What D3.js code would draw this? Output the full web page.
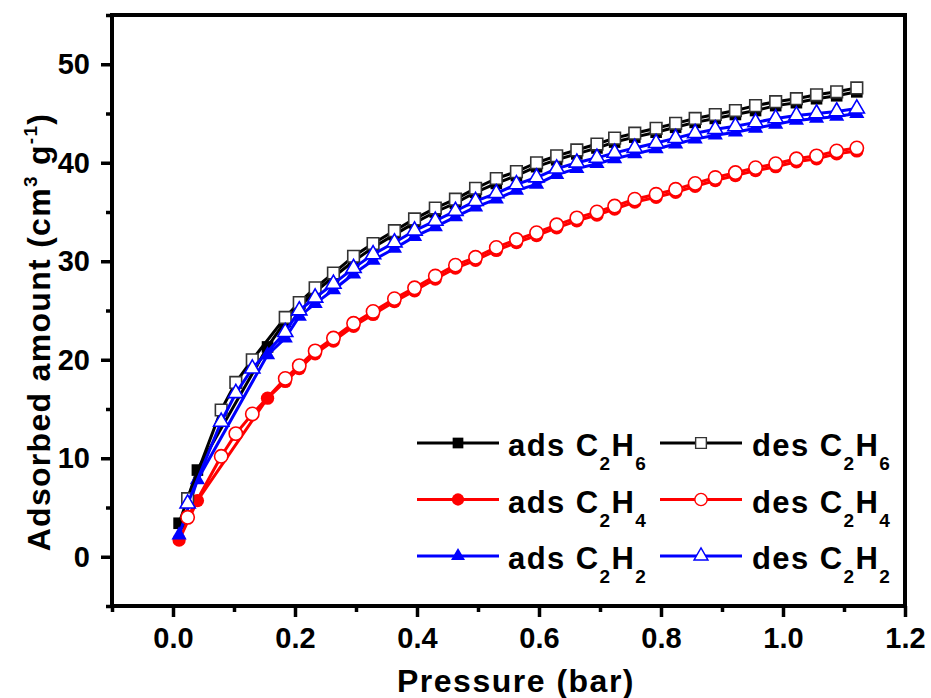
<!DOCTYPE html>
<html>
<head>
<meta charset="utf-8">
<script src="https://cdn.jsdelivr.net/npm/d3@7/dist/d3.min.js"></script>
<style>
  html, body { margin: 0; padding: 0; background: #fff; }
  svg { display: block; }
  text { font-family: "Liberation Sans", Arial, sans-serif; font-weight: bold; fill: #000; }
</style>
</head>
<body>
<svg id="chart" width="931" height="698"></svg>
<script>
// ---------------- data ----------------
const desPressure = [0.024, 0.079, 0.103, 0.130, 0.184, 0.207, 0.233, 0.263, 0.296, 0.328, 0.363, 0.396, 0.430, 0.463, 0.496, 0.530, 0.563, 0.596, 0.629, 0.662, 0.695, 0.724, 0.757, 0.792, 0.824, 0.856, 0.889, 0.922, 0.955, 0.988, 1.022, 1.055, 1.088, 1.121];
const adsPressure = [0.010, 0.040, 0.155, 0.184, 0.207, 0.233, 0.263, 0.296, 0.328, 0.363, 0.396, 0.430, 0.463, 0.496, 0.530, 0.563, 0.596, 0.629, 0.662, 0.695, 0.724, 0.757, 0.792, 0.824, 0.856, 0.889, 0.922, 0.955, 0.988, 1.022, 1.055, 1.088, 1.121];

const adsC2H6 = [3.4, 8.8, 21.3, 23.9, 25.4, 26.9, 28.4, 30.0, 31.4, 32.7, 33.9, 35.0, 35.9, 37.0, 37.9, 38.7, 39.6, 40.3, 40.9, 41.5, 42.1, 42.6, 43.1, 43.6, 44.1, 44.5, 44.9, 45.3, 45.8, 46.1, 46.5, 46.8, 47.2];
const adsC2H4 = [1.7, 5.7, 16.1, 17.8, 19.1, 20.6, 21.9, 23.4, 24.6, 25.9, 27.0, 28.2, 29.3, 30.1, 31.1, 31.9, 32.6, 33.4, 34.1, 34.7, 35.3, 36.0, 36.5, 37.0, 37.6, 38.2, 38.7, 39.2, 39.6, 40.1, 40.4, 40.9, 41.2];
const adsC2H2 = [2.2, 7.8, 20.5, 22.2, 24.4, 25.7, 27.1, 28.7, 30.1, 31.3, 32.5, 33.5, 34.5, 35.5, 36.3, 37.2, 37.8, 38.8, 39.4, 39.9, 40.4, 40.9, 41.4, 41.9, 42.4, 42.8, 43.1, 43.5, 43.9, 44.3, 44.5, 44.7, 45.0];

const desC2H6 = [5.9, 14.9, 17.7, 20.0, 24.3, 25.8, 27.3, 28.8, 30.5, 31.8, 33.1, 34.3, 35.4, 36.3, 37.4, 38.4, 39.1, 40.0, 40.7, 41.3, 41.9, 42.5, 43.0, 43.5, 44.0, 44.5, 44.9, 45.3, 45.8, 46.2, 46.5, 46.9, 47.2, 47.6];
const desC2H4 = [4.0, 10.2, 12.5, 14.5, 18.1, 19.4, 20.9, 22.2, 23.7, 24.9, 26.2, 27.3, 28.5, 29.6, 30.4, 31.4, 32.2, 32.9, 33.7, 34.4, 35.0, 35.6, 36.3, 36.8, 37.3, 37.9, 38.5, 39.0, 39.5, 39.9, 40.4, 40.7, 41.2, 41.5];
const desC2H2 = [5.4, 13.7, 16.6, 19.1, 22.8, 25.0, 26.3, 27.7, 29.3, 30.7, 31.9, 33.1, 34.1, 35.1, 36.1, 36.9, 37.8, 38.5, 39.4, 40.0, 40.5, 41.0, 41.5, 42.0, 42.5, 43.0, 43.4, 43.7, 44.1, 44.5, 44.8, 45.0, 45.2, 45.5];

const xMajorTicks = [0.0, 0.2, 0.4, 0.6, 0.8, 1.0, 1.2];
const xMinorTicks = [-0.1, 0.1, 0.3, 0.5, 0.7, 0.9, 1.1];
const yMajorTicks = [0, 10, 20, 30, 40, 50];
const yMinorTicks = [-5, 5, 15, 25, 35, 45, 55];

const seriesNames = ["ads C2H6", "ads C2H4", "ads C2H2", "des C2H6", "des C2H4", "des C2H2"];

// ---------------- chart ----------------
const svg = d3.select("#chart");
const L = 112, R = 905, T = 15, B = 606;
const x = d3.scaleLinear().domain([-0.1, 1.2]).range([L, R]);
const y = d3.scaleLinear().domain([-5, 55]).range([B, T]);

const series = [
  { name: seriesNames[0], gas: ["C", "2", "H", "6"], kind: "ads", px: adsPressure, v: adsC2H6, color: "#000000", sym: d3.symbolSquare, size: 135, fill: "#000000" },
  { name: seriesNames[1], gas: ["C", "2", "H", "4"], kind: "ads", px: adsPressure, v: adsC2H4, color: "#ff0000", sym: d3.symbolCircle, size: 140, fill: "#ff0000" },
  { name: seriesNames[2], gas: ["C", "2", "H", "2"], kind: "ads", px: adsPressure, v: adsC2H2, color: "#0000ff", sym: d3.symbolTriangle, size: 100, fill: "#0000ff" },
  { name: seriesNames[3], gas: ["C", "2", "H", "6"], kind: "des", px: desPressure, v: desC2H6, color: "#000000", sym: d3.symbolSquare, size: 135, fill: "#ffffff" },
  { name: seriesNames[4], gas: ["C", "2", "H", "4"], kind: "des", px: desPressure, v: desC2H4, color: "#ff0000", sym: d3.symbolCircle, size: 140, fill: "#ffffff" },
  { name: seriesNames[5], gas: ["C", "2", "H", "2"], kind: "des", px: desPressure, v: desC2H2, color: "#0000ff", sym: d3.symbolTriangle, size: 100, fill: "#ffffff" }
];

// axes (ticks outward)
const fmt = d3.format(".1f");
const gx = svg.append("g").attr("transform", `translate(0,${B})`)
  .call(d3.axisBottom(x).tickValues(xMajorTicks).tickFormat(fmt).tickSizeInner(11).tickSizeOuter(0).tickPadding(10));
const gxm = svg.append("g").attr("transform", `translate(0,${B})`)
  .call(d3.axisBottom(x).tickValues(xMinorTicks).tickFormat("").tickSizeInner(6).tickSizeOuter(0));
const gy = svg.append("g").attr("transform", `translate(${L},0)`)
  .call(d3.axisLeft(y).tickValues(yMajorTicks).tickFormat(d3.format("d")).tickSizeInner(11).tickSizeOuter(0).tickPadding(11));
const gym = svg.append("g").attr("transform", `translate(${L},0)`)
  .call(d3.axisLeft(y).tickValues(yMinorTicks).tickFormat("").tickSizeInner(6).tickSizeOuter(0));
[gx, gxm, gy, gym].forEach(g => {
  g.select(".domain").remove();
  g.selectAll(".tick line").attr("stroke", "#000").attr("stroke-width", 3.5);
  g.selectAll(".tick text").style("font-family", "'Liberation Sans', Arial, sans-serif")
    .style("font-weight", "bold").style("font-size", "29px").attr("fill", "#000");
});

// frame
svg.append("rect").attr("x", L).attr("y", T).attr("width", R - L).attr("height", B - T)
  .attr("fill", "none").attr("stroke", "#000").attr("stroke-width", 4);

// series lines & markers
const line = d3.line().x(d => x(d[0])).y(d => y(d[1]));
series.forEach(s => {
  const pts = s.px.map((p, i) => [p, s.v[i]]);
  svg.append("path").datum(pts).attr("d", line)
    .attr("fill", "none").attr("stroke", s.color).attr("stroke-width", 3).attr("stroke-linejoin", "round");
  svg.append("g").selectAll("path").data(pts).join("path")
    .attr("transform", d => `translate(${x(d[0])},${y(d[1])})`)
    .attr("d", d3.symbol().type(s.sym).size(s.size))
    .attr("fill", s.fill)
    .attr("stroke", s.kind === "des" ? (s.color === "#000000" ? "#333" : s.color) : "none")
    .attr("stroke-width", 1.6);
});

// axis titles
svg.append("text").attr("x", 516).attr("y", 692).attr("text-anchor", "middle")
  .style("font-size", "32px").style("letter-spacing", "1.5px").text("Pressure (bar)");

const yt = svg.append("text").attr("transform", "translate(50,332) rotate(-90)")
  .attr("text-anchor", "middle").style("font-size", "32px").style("letter-spacing", "1.3px");
yt.append("tspan").text("Adsorbed amount (cm");
yt.append("tspan").attr("dy", -13).style("font-size", "19px").text("3");
yt.append("tspan").attr("dy", 13).text(" g");
yt.append("tspan").attr("dy", -13).style("font-size", "19px").text("-1");
yt.append("tspan").attr("dy", 13).text(")");

// legend
const legCols = [{ x0: 417, x1: 499, tx: 508 }, { x0: 660, x1: 742, tx: 752 }];
const legRows = [443, 499.5, 556];
series.forEach((s, i) => {
  const col = legCols[s.kind === "ads" ? 0 : 1];
  const row = legRows[i % 3];
  const g = svg.append("g");
  g.append("line").attr("x1", col.x0).attr("x2", col.x1).attr("y1", row).attr("y2", row)
    .attr("stroke", s.color).attr("stroke-width", 3);
  g.append("path").attr("transform", `translate(${(col.x0 + col.x1) / 2},${row})`)
    .attr("d", d3.symbol().type(s.sym).size(s.size * 0.85))
    .attr("fill", s.fill)
    .attr("stroke", s.kind === "des" ? (s.color === "#000000" ? "#333" : s.color) : "none")
    .attr("stroke-width", 1.4);
  const t = g.append("text").attr("x", col.tx).attr("y", row + 13).style("font-size", "31px").style("letter-spacing", "1.4px");
  t.append("tspan").text(s.kind + " " + s.gas[0]);
  t.append("tspan").attr("dy", 14).style("font-size", "19px").text(s.gas[1]);
  t.append("tspan").attr("dy", -14).text(s.gas[2]);
  t.append("tspan").attr("dy", 14).style("font-size", "19px").text(s.gas[3]);
});
</script>
</body>
</html>
